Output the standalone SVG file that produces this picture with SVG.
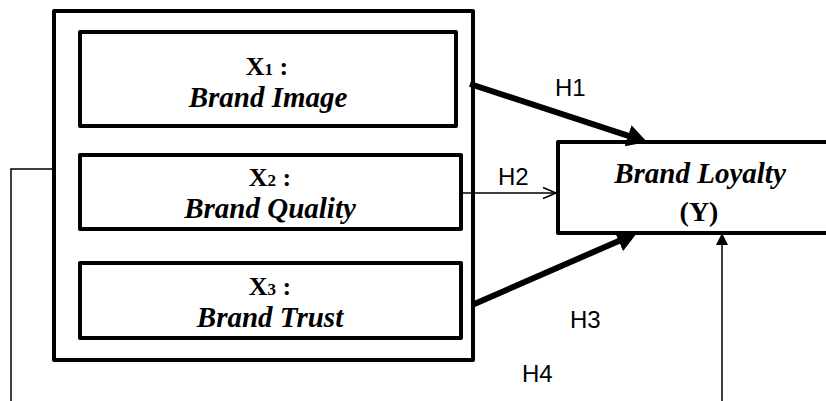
<svg xmlns="http://www.w3.org/2000/svg" width="826" height="401" viewBox="0 0 826 401">
  <style>
    .box { fill: #ffffff; stroke: #000000; stroke-width: 4; stroke-linejoin: round; }
    .frame { fill: none; stroke: #000000; stroke-width: 4; stroke-linejoin: round; }
    .name { font-family: "Liberation Serif", "Times New Roman", serif; font-weight: bold; font-style: italic; font-size: 29px; fill: #000000; text-anchor: middle; }
    .var { font-family: "Liberation Serif", "Times New Roman", serif; font-weight: bold; font-size: 26px; fill: #000000; text-anchor: middle; }
    .sub { font-size: 17px; }
    .hyp { font-family: "Liberation Sans", Arial, sans-serif; font-size: 24px; fill: #000000; }
    .thick { stroke: #000000; stroke-width: 6; fill: none; }
    .thin { stroke: #000000; stroke-width: 1.5; fill: none; }
  </style>
  <defs>
    <marker id="bigHead" markerUnits="userSpaceOnUse" markerWidth="20" markerHeight="22" refX="2" refY="11" orient="auto">
      <path d="M0,0 L20,11 L0,22 z" fill="#000000"/>
    </marker>
    <marker id="smallHead" markerUnits="userSpaceOnUse" markerWidth="12" markerHeight="12" refX="1" refY="6" orient="auto">
      <path d="M0,0 L12,6 L0,12 z" fill="#000000"/>
    </marker>
  </defs>

  <rect width="826" height="401" fill="#ffffff"/>

  <!-- outer frame grouping the three independent variables -->
  <g id="independent-group">
    <rect class="frame" x="54" y="11" width="419" height="349"/>
  </g>

  <g id="x1">
    <rect class="box" x="80" y="32" width="376" height="94"/>
    <text class="var" x="267" y="75">X<tspan class="sub">1</tspan> :</text>
    <text class="name" x="268" y="107">Brand Image</text>
  </g>

  <g id="x2">
    <rect class="box" x="80" y="155" width="381" height="74"/>
    <text class="var" x="270" y="186">X<tspan class="sub">2</tspan> :</text>
    <text class="name" x="270" y="218">Brand Quality</text>
  </g>

  <g id="x3">
    <rect class="box" x="80" y="263" width="381" height="75"/>
    <text class="var" x="270" y="295">X<tspan class="sub">3</tspan> :</text>
    <text class="name" x="270" y="327">Brand Trust</text>
  </g>

  <g id="y">
    <rect class="box" x="558" y="142" width="290" height="91"/>
    <text class="name" x="700" y="183">Brand Loyalty</text>
    <text class="var" x="699" y="221" style="font-size:28px">(Y)</text>
  </g>

  <g id="connectors">
    <!-- H1 -->
    <line class="thick" x1="470" y1="84" x2="630" y2="136.4" marker-end="url(#bigHead)"/>
    <!-- H2 -->
    <line class="thin" x1="461" y1="193" x2="556" y2="193"/>
    <polyline class="thin" points="543,187.5 556,193 543,198.5"/>
    <!-- H3 -->
    <line class="thick" x1="472" y1="305" x2="620.5" y2="240.2" marker-end="url(#bigHead)"/>
    <!-- H4: simultaneous effect of the whole group -->
    <polyline class="thin" points="54,169 11,169 11,401"/>
    <line class="thin" x1="722" y1="401" x2="722" y2="244" marker-end="url(#smallHead)"/>
  </g>

  <g id="labels">
    <text class="hyp" x="555" y="96">H1</text>
    <text class="hyp" x="498" y="185">H2</text>
    <text class="hyp" x="570" y="328">H3</text>
    <text class="hyp" x="522" y="382">H4</text>
  </g>
</svg>
